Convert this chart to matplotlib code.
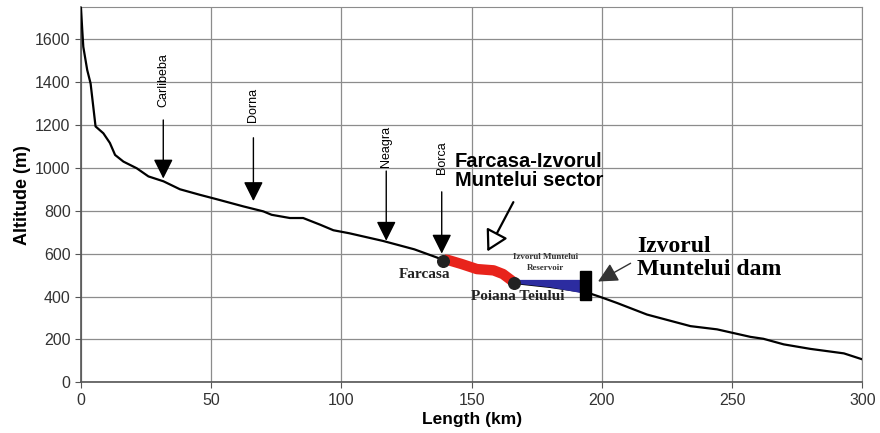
import numpy as np
import matplotlib
matplotlib.use("Agg")
import matplotlib.pyplot as plt
from matplotlib.patches import Rectangle

plt.rcParams['font.family'] = ['Liberation Sans', 'DejaVu Sans']

# river longitudinal profile (km, m)
length_km = [0, 0.5, 0.9, 2.4, 3.7, 5.6, 8.6, 11.1, 13.1, 16.3, 21.4, 25.9, 31.7,
             38, 45.7, 52, 62.4, 70, 73.2, 80.2, 85.3, 91.8, 96.9, 103, 116, 128,
             138.9, 152, 158.4, 166.4, 180, 194, 199.4, 205.8, 217.3, 234, 244.2,
             257, 262, 269.8, 280, 292.9, 300]
altitude_m = [1744, 1642, 1564, 1456, 1393, 1193, 1161, 1116, 1060, 1029, 998, 960, 937,
              900, 874, 854, 820, 797, 781, 766, 766, 735, 709, 695, 659, 620,
              572, 530, 525, 463, 445, 420, 398, 370, 316, 262, 247,
              212, 203, 177, 156, 135, 107]

# Farcasa - Poiana Teiului sector (red)
sector_km = [139.5, 141, 146, 152, 158.4, 162, 166.4]
sector_m = [572, 570, 552, 528, 522, 505, 465]

# reservoir (blue)
reservoir_km = [166.4, 180, 192]
reservoir_bottom = [463, 445, 418]
reservoir_level = 480

# dam
dam_km = 193.7
dam_bottom, dam_top = 386, 518

# tributaries: name, km, label altitude, arrow tail, arrow tip
tributaries = ["Carlibeba", "Dorna", "Neagra", "Borca"]
trib_km = [31.6, 66.2, 117.2, 138.5]
trib_label_m = [1410, 1295, 1100, 1047]
trib_tail_m = [1223, 1140, 985, 888]
trib_tip_m = [950, 845, 660, 600]

fig, ax = plt.subplots(figsize=(8.8, 4.33), dpi=100)
fig.subplots_adjust(left=0.092, right=0.98, top=0.984, bottom=0.117)

ax.set_xlim(0, 300)
ax.set_ylim(0, 1750)
ax.set_xticks(np.arange(0, 301, 50))
ax.set_yticks(np.arange(0, 1601, 200))
ax.grid(True, color='#8c8c8c', linewidth=0.9)
ax.set_axisbelow(True)
for side in ['top', 'right']:
    ax.spines[side].set_color('#8c8c8c')
for side in ['left', 'bottom']:
    ax.spines[side].set_color('#555555')
    ax.spines[side].set_linewidth(1.2)
ax.tick_params(labelsize=11.5, labelcolor='#333333', color='#555555', length=4)
ax.set_xlabel('Length (km)', fontsize=12.5, fontweight='bold', labelpad=3)
ax.set_ylabel('Altitude (m)', fontsize=13, fontweight='bold', labelpad=3)

ax.plot(length_km, altitude_m, color='black', linewidth=1.6, zorder=3)
ax.fill_between(reservoir_km, reservoir_bottom, reservoir_level,
                color='#2c2ca0', linewidth=0, zorder=4)
ax.plot(sector_km, sector_m, color='#e8231b', linewidth=7.5,
        solid_capstyle='butt', zorder=4)
ax.add_patch(Rectangle((dam_km - 2, dam_bottom), 4, dam_top - dam_bottom,
                       color='black', zorder=5))
ax.scatter([138.9, 166.4], [566, 463], s=70, color='#222222', zorder=6)

for name, km, lab, tail, tip in zip(tributaries, trib_km, trib_label_m,
                                    trib_tail_m, trib_tip_m):
    ax.text(km, lab, name, rotation=90, ha='center', va='center', fontsize=9)
    ax.annotate('', xy=(km, tip), xytext=(km, tail),
                arrowprops=dict(arrowstyle='-|>,head_length=0.8,head_width=0.4',
                                mutation_scale=15, color='black', lw=1,
                                shrinkA=0, shrinkB=0), zorder=5)

ax.text(143.5, 985, 'Farcasa-Izvorul\nMuntelui sector', fontsize=14.5,
        fontweight='bold', ha='left', va='center', linespacing=1.05, zorder=4)
ax.annotate('', xy=(156, 610), xytext=(166, 840),
            arrowprops=dict(arrowstyle='-|>,head_length=0.8,head_width=0.45',
                            mutation_scale=16, facecolor='white',
                            edgecolor='black', lw=1.6,
                            shrinkA=0, shrinkB=0), zorder=5)

serif = ['Liberation Serif', 'DejaVu Serif']
ax.text(213.5, 580, 'Izvorul\nMuntelui dam', fontsize=17, fontweight='bold',
        family=serif, ha='left', va='center', linespacing=1.1, zorder=4)
ax.annotate('', xy=(198.5, 470), xytext=(211, 555),
            arrowprops=dict(arrowstyle='-|>,head_length=0.8,head_width=0.4',
                            mutation_scale=15, color='#333333', lw=1,
                            shrinkA=0, shrinkB=0), zorder=5)

ax.text(132, 505, 'Farcasa', fontsize=11, fontweight='bold', family=serif,
        ha='center', va='center', color='#222222', zorder=6)
ax.text(167.5, 400, 'Poiana Teiului', fontsize=11, fontweight='bold',
        family=serif, ha='center', va='center', color='#222222', zorder=6)
ax.text(178.5, 560, 'Izvorul Muntelui\nReservoir', fontsize=6.5,
        fontweight='bold', family=serif, ha='center', va='center',
        color='#333333', linespacing=1.5, zorder=6)

fig.savefig('out.png', dpi=100)
